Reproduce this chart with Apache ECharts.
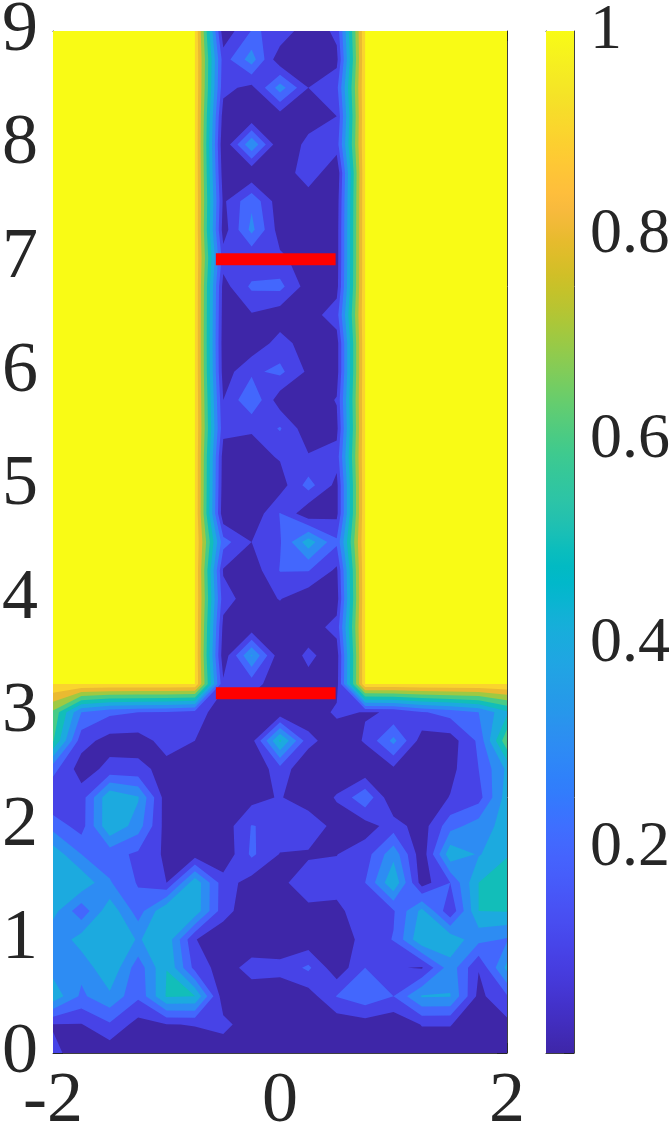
<!DOCTYPE html>
<html><head><meta charset="utf-8">
<style>html,body{margin:0;padding:0;background:#fff}#c{width:670px;height:1125px}</style>
<script src="https://cdn.jsdelivr.net/npm/echarts@6/dist/echarts.min.js"></script>
</head><body><div id="c"></div>
<script>
// grid nodes
const xNodes=[-2,-1.75,-1.5,-1.25,-1,-0.75,-0.5,-0.25,0,0.25,0.5,0.75,1,1.25,1.5,1.75,2];
const yNodes=[0,0.25,0.5,0.75,1,1.25,1.5,1.75,2,2.25,2.5,2.75,3,3.25,3.5,3.75,4,4.25,4.5,4.75,5,5.25,5.5,5.75,6,6.25,6.5,6.75,7,7.25,7.5,7.75,8,8.25,8.5,8.75,9];
// values for y = 0 ... 3 across the whole width
const lowerRows=[
[.115,.07,.03,.03,.03,.03,.04,.04,.05,.04,.03,.03,.03,.03,.03,.03,.03],
[.095,.095,.185,.06,.095,.105,.13,.04,.04,.04,.03,.05,.02,.105,.105,.03,.07],
[.47,.28,.38,.22,.51,.502,.04,.04,.04,.05,.205,.27,.2,.41,.405,.07,.19],
[.36,.33,.49,.24,.499,.165,.05,.14,.13,.22,.03,.2,.11,.09,.36,.105,.43],
[.31,.45,.49,.39,.47,.105,.03,.03,.03,.03,.03,.14,.205,.49,.47,.33,.29],
[.44,.23,.47,.25,.495,.47,.14,.03,.03,.07,.08,.15,.19,.43,.12,.5,.505],
[.49,.48,.31,.19,.1,.47,.145,.06,.07,.17,.13,.2,.49,.05,.2,.5,.57],
[.465,.3,.24,.18,.08,.05,.02,.22,.095,.0825,.098,.15,.37,.03,.47,.39,.49],
[.26,.155,.49,.35,.05,.03,.04,.205,.17,.19,.05,.055,.145,.05,.26,.35,.44],
[.105,.15,.49,.41,.04,.03,.03,.06,.11,.02,.11,.28,.01,.03,.105,.16,.45],
[.235,.05,.13,.125,.07,.03,.03,.01,.16,.01,.03,.02,.08,.03,.07,.2,.42],
[.61,.14,.06,.06,.135,.1,.02,.06,.52,.135,.03,.11,.33,.05,.05,.22,.68],
[.68,.3,.22,.2,.19,.16,.03,.03,.03,.03,.12,.095,.105,.19,.24,.3,.48]
];
// values for y = 3.25 ... 9 at x = -0.5, -0.25, 0, 0.25, 0.5
const channelRows=[
[.12,.14,.04,.07,.06],[.03,.41,.03,.12,.05],[.07,.03,.03,.05,.135],[.14,.05,.105,.03,.05],
[.09,.04,.205,.205,.08],[.24,.1,.19,.46,.22],[.02,.02,.205,.02,.07],[.04,.03,.05,.24,.07],
[.05,.06,.11,.11,.14],[.13,.11,.21,.03,.07],[.1,.29,.04,.03,.107],[.05,.18,.225,.08,.05],
[.04,.03,.14,.05,.05],[.05,.09,.04,.05,.155],[.06,.22,.23,.05,.06],[.15,.11,.12,.05,.05],
[.05,.33,.05,.04,.05],[.08,.28,.03,.03,.04],[.04,.01,.02,.17,.01],[.01,.39,.01,.13,.15],
[.05,.01,.05,.05,.1],[.13,.07,.35,.1,.17],[.15,.35,.02,.03,.07],[.03,.205,.19,.01,.13]
];
const wallValue=1;
const levels=[0,.1,.2,.3,.4,.5,.6,.7,.8,.9,1];
const redBarX=[-0.565,0.49];
const redBarY=[6.99,3.167];
const parula=[[.2422,.1504,.6603],[.2504,.165,.7076],[.2578,.1818,.7511],[.2647,.1978,.7952],[.2706,.2147,.8364],[.2751,.2342,.871],[.2783,.2559,.8991],[.2803,.2782,.9221],[.2813,.3006,.9414],[.281,.3228,.9579],[.2795,.3447,.9717],[.276,.3667,.9829],[.2699,.3892,.9906],[.2602,.4123,.9952],[.244,.4358,.9988],[.2206,.4603,.9973],[.1963,.4847,.9892],[.1834,.5074,.9798],[.1786,.5289,.9682],[.1764,.5499,.952],[.1687,.5703,.9359],[.154,.5902,.9218],[.146,.6091,.9079],[.138,.6276,.8973],[.1248,.6459,.8883],[.1113,.6635,.8763],[.0952,.6798,.8598],[.0689,.6948,.8394],[.0297,.7082,.8163],[.0036,.7203,.7917],[.0067,.7312,.766],[.0433,.7411,.7394],[.0964,.75,.712],[.1408,.7584,.6842],[.1717,.767,.6554],[.1938,.7758,.6251],[.2161,.7843,.5923],[.247,.7918,.5567],[.2906,.7973,.5188],[.3406,.8008,.4789],[.3909,.8029,.4354],[.4456,.8024,.3909],[.5044,.7993,.348],[.5616,.7942,.3045],[.6174,.7876,.2612],[.672,.7793,.2227],[.7242,.7698,.191],[.7738,.7598,.1646],[.8203,.7498,.1535],[.8634,.7406,.1596],[.9035,.733,.1774],[.9393,.7288,.21],[.9728,.7298,.2394],[.9956,.7434,.2371],[.997,.7659,.2199],[.9952,.7893,.2028],[.9892,.8136,.1885],[.9786,.8386,.1766],[.9676,.8639,.1643],[.961,.889,.1537],[.9597,.9135,.1423],[.9628,.9373,.1265],[.9691,.9606,.1064],[.9769,.9839,.0805]];

function parulaAt(t){
  const p=Math.min(1,Math.max(0,t))*(parula.length-1),a=Math.floor(p),b=Math.min(parula.length-1,a+1),f=p-a;
  const c=[0,1,2].map(k=>Math.round(255*(parula[a][k]+(parula[b][k]-parula[a][k])*f)));
  return 'rgb('+c.join(',')+')';
}
// assemble the full value matrix
const z=lowerRows.concat(channelRows.map(r=>[wallValue,wallValue,wallValue,wallValue,wallValue,wallValue].concat(r,[wallValue,wallValue,wallValue,wallValue,wallValue,wallValue])));

function levelPath(L,api){
  let d='';
  const P=(x,y)=>{const c=api.coord([x,y]);return c[0].toFixed(2)+' '+c[1].toFixed(2);};
  const cross=(a,b)=>{const va=z[a[1]][a[0]],vb=z[b[1]][b[0]],f=(L-va)/(vb-va);
    return P(xNodes[a[0]]+(xNodes[b[0]]-xNodes[a[0]])*f,yNodes[a[1]]+(yNodes[b[1]]-yNodes[a[1]])*f);};
  for(let j=0;j<yNodes.length-1;j++)for(let i=0;i<xNodes.length-1;i++){
    const cs=[[i,j],[i+1,j],[i+1,j+1],[i,j+1]];
    const vs=cs.map(c=>z[c[1]][c[0]]);
    const hi=vs.map(v=>v>=L);
    const isSaddle=hi[0]===hi[2]&&hi[1]===hi[3]&&hi[0]!==hi[1];
    const mean=(vs[0]+vs[1]+vs[2]+vs[3])/4;
    if(isSaddle&&mean<L){
      // two separate corner triangles
      for(let k=0;k<4;k++)if(hi[k]){
        const a=cs[k],nx=cs[(k+1)%4],pv=cs[(k+3)%4];
        d+='M'+P(xNodes[a[0]],yNodes[a[1]])+'L'+cross(a,nx)+'L'+cross(a,pv)+'Z';
      }
      continue;
    }
    const pts=[];
    for(let k=0;k<4;k++){
      const a=cs[k],b=cs[(k+1)%4];
      if(hi[k])pts.push(P(xNodes[a[0]],yNodes[a[1]]));
      if(hi[k]!==hi[(k+1)%4])pts.push(cross(a,b));
    }
    if(pts.length>2)d+='M'+pts.join('L')+'Z';
  }
  return d;
}
const axisCol='#404040', textCol='#262626', font='"Liberation Serif",serif';
const chart=echarts.init(document.getElementById('c'),null,{renderer:'canvas'});
const mainLine={show:true,onZero:false,lineStyle:{color:axisCol,width:1}};
const tick={show:true,inside:true,length:10,lineStyle:{color:textCol,width:1}};
const mainX={type:'value',gridIndex:0,min:-2,max:2,interval:2,splitLine:{show:false},axisLine:mainLine,axisTick:tick};
const mainY={type:'value',gridIndex:0,min:0,max:9,interval:1,splitLine:{show:false},axisLine:mainLine,axisTick:tick};
const barX={type:'value',gridIndex:1,min:0,max:1,splitLine:{show:false},axisLine:mainLine,axisTick:{show:false},axisLabel:{show:false}};
const barY={type:'value',gridIndex:1,min:0,max:1,interval:.2,splitLine:{show:false},axisLine:mainLine};
chart.setOption({
  animation:false,
  backgroundColor:'#fff',
  grid:[{left:53,top:31,width:454,height:1022,outerBoundsMode:'none'},{left:546,top:31,width:28,height:1022,outerBoundsMode:'none'}],
  xAxis:[
    Object.assign({},mainX,{position:'bottom',axisLabel:{show:true,margin:13,color:textCol,fontFamily:font,fontSize:72,hideOverlap:false,showMinLabel:true,showMaxLabel:true,formatter:v=>String(v)}}),
    Object.assign({},mainX,{position:'top',axisLabel:{show:false}}),
    Object.assign({},barX,{position:'bottom'}),
    Object.assign({},barX,{position:'top'})
  ],
  yAxis:[
    Object.assign({},mainY,{position:'left',axisLabel:{show:true,margin:15,color:textCol,fontFamily:font,fontSize:72,padding:[0,0,6,0],showMinLabel:true,showMaxLabel:true,formatter:v=>String(v)}}),
    Object.assign({},mainY,{position:'right',axisLabel:{show:false}}),
    Object.assign({},barY,{position:'right',axisTick:tick,axisLabel:{show:true,margin:16,color:textCol,fontFamily:font,fontSize:64,padding:[0,0,6,0],showMinLabel:true,showMaxLabel:true,formatter:v=>v===0?'':String(+v.toFixed(1))}}),
    Object.assign({},barY,{position:'left',axisTick:{show:false},axisLabel:{show:false}})
  ],
  series:[
    {type:'custom',xAxisIndex:0,yAxisIndex:0,silent:true,z:1,clip:false,
     data:levels.map((l,k)=>[k,l]),
     renderItem:(p,api)=>{const L=api.value(1);return {type:'path',shape:{pathData:levelPath(L,api)},style:{fill:parulaAt(L),stroke:null}};}},
    {type:'custom',xAxisIndex:2,yAxisIndex:2,silent:true,z:1,
     data:[[0,0]],
     renderItem:(p,api)=>{
       const a=api.coord([0,1]),b=api.coord([1,0]);
       return {type:'rect',shape:{x:a[0],y:a[1],width:b[0]-a[0],height:b[1]-a[1]},
         style:{fill:new echarts.graphic.LinearGradient(0,1,0,0,parula.map((c,i)=>({offset:i/(parula.length-1),color:parulaAt(i/(parula.length-1))})))}};
     }},
    {type:'line',xAxisIndex:0,yAxisIndex:0,silent:true,symbol:'none',z:5,lineStyle:{color:'#ff0000',width:12,cap:'butt'},data:redBarX.map(x=>[x,redBarY[0]])},
    {type:'line',xAxisIndex:0,yAxisIndex:0,silent:true,symbol:'none',z:5,lineStyle:{color:'#ff0000',width:12,cap:'butt'},data:redBarX.map(x=>[x,redBarY[1]])}
  ]
});
</script></body></html>
